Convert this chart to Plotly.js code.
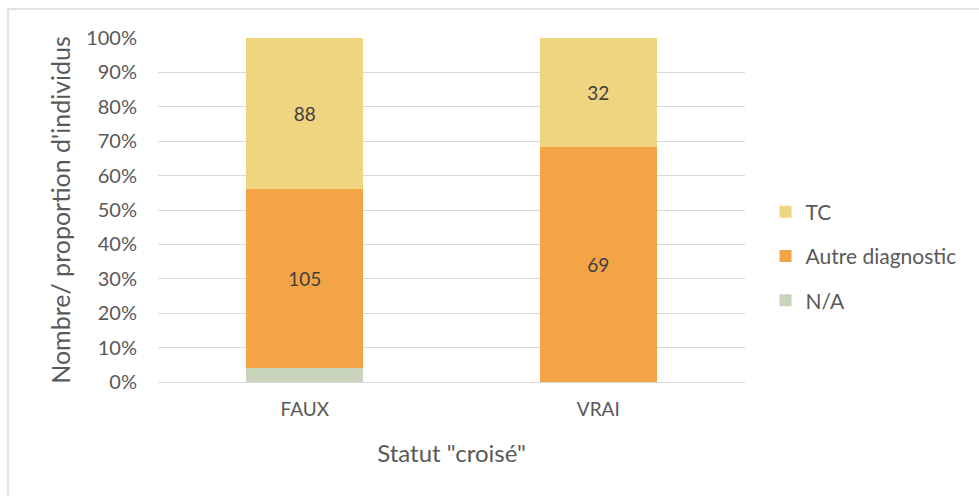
<!DOCTYPE html>
<html>
<head>
<meta charset="utf-8">
<script src="https://cdn.plot.ly/plotly-3.0.1.min.js"></script>
<style>html,body{margin:0;padding:0;background:#fff;}#chart{width:979px;height:496px;}</style>
</head>
<body>
<div id="chart"></div>
<script>
const categories = ["FAUX", "VRAI"];
const naValues = [8, 0];
const autreValues = [105, 69];
const tcValues = [88, 32];
const seriesNames = ["N/A", "Autre diagnostic", "TC"];
const yTickVals = [0, 10, 20, 30, 40, 50, 60, 70, 80, 90, 100];
const yTickText = yTickVals.map(v => v + "%");

const FONT = "Lato, 'Open Sans', sans-serif";

function barTrace(name, vals, color, showText, rank) {
  return {
    type: "bar",
    name: name,
    x: categories,
    y: vals,
    marker: {color: color, line: {width: 0}},
    text: showText ? vals.map(String) : vals.map(() => ""),
    textposition: "inside",
    insidetextanchor: "middle",
    textangle: 0,
    textfont: {family: FONT, size: 19, color: "#404040"},
    legendgroup: name,
    legendrank: rank,
    hoverinfo: "x+y+name"
  };
}

const data = [
  barTrace(seriesNames[0], naValues, "#C9D4BD", false, 3),
  barTrace(seriesNames[1], autreValues, "#F2A446", true, 2),
  barTrace(seriesNames[2], tcValues, "#F0D580", true, 1)
];

const layout = {
  width: 979,
  height: 496,
  margin: {l: 158, r: 234, t: 38, b: 114},
  paper_bgcolor: "#ffffff",
  plot_bgcolor: "#ffffff",
  barmode: "stack",
  barnorm: "percent",
  bargap: 0.6,
  font: {family: FONT, color: "#595959"},
  xaxis: {
    type: "category",
    showgrid: false,
    showline: true,
    linecolor: "#d9d9d9",
    linewidth: 1,
    ticks: "",
    ticklabelstandoff: 10,
    tickfont: {family: FONT, size: 19, color: "#595959"},
    title: {text: "Statut \"croisé\"", font: {family: FONT, size: 24, color: "#595959"}, standoff: 26},
    fixedrange: true
  },
  yaxis: {
    range: [0, 100],
    tickvals: yTickVals,
    ticktext: yTickText,
    showgrid: true,
    gridcolor: "#d9d9d9",
    gridwidth: 1,
    zeroline: false,
    showline: false,
    ticks: "",
    ticklabelstandoff: 20,
    tickfont: {family: FONT, size: 20, color: "#595959"},
    title: {text: "Nombre/ proportion d'individus", font: {family: FONT, size: 25, color: "#595959"}, standoff: 8},
    fixedrange: true
  },
  legend: {
    x: 1.035,
    xanchor: "left",
    y: 0.366,
    yanchor: "middle",
    traceorder: "grouped",
    tracegroupgap: 14,
    font: {family: FONT, size: 21, color: "#595959"},
    itemwidth: 30,
    bgcolor: "rgba(0,0,0,0)"
  },
  shapes: [
    {type: "line", xref: "paper", yref: "paper", x0: -0.2555, x1: 2, y0: 1.084, y1: 1.084, line: {color: "#d9d9d9", width: 1.5}},
    {type: "line", xref: "paper", yref: "paper", x0: -0.2555, x1: -0.2555, y0: 1.084, y1: -0.5, line: {color: "#d9d9d9", width: 1.5}}
  ],
  showlegend: true
};

Plotly.newPlot("chart", data, layout, {displayModeBar: false, staticPlot: true});
</script>
</body>
</html>
